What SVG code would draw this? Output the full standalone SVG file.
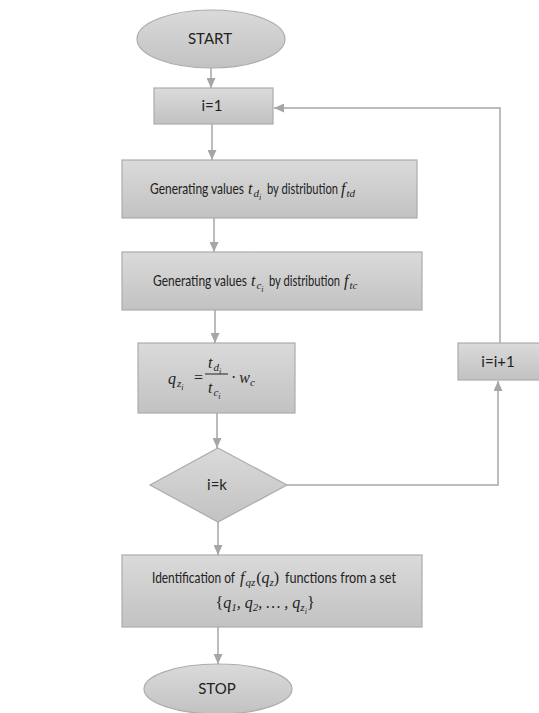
<svg xmlns="http://www.w3.org/2000/svg" width="539" height="713" viewBox="0 0 539 713">
<defs>
<linearGradient id="g" x1="0" y1="0" x2="0" y2="1">
<stop offset="0" stop-color="#dadada"/>
<stop offset="1" stop-color="#c2c2c2"/>
</linearGradient>
<marker id="ah" viewBox="0 0 10 10" refX="10" refY="5" markerWidth="10" markerHeight="9" markerUnits="userSpaceOnUse" orient="auto" preserveAspectRatio="none">
<path d="M0,0 L10,5 L0,10 z" fill="#a6a6a6"/>
</marker>
</defs>
<style>
.shape{fill:url(#g);stroke:#acacac;stroke-width:1.2}
.t{font-family:Lato,"Open Sans","Liberation Sans",sans-serif;font-size:15px;fill:#222222}
.mid{text-anchor:middle}
.m{font-family:"Liberation Serif","DejaVu Serif",serif;font-style:italic;font-size:16px;fill:#222222}
.up{font-style:normal}
.s{font-size:11px}
.ss{font-size:8px}
.c{fill:none;stroke:#a6a6a6;stroke-width:1.5}
</style>
<rect width="539" height="713" fill="#ffffff"/>
<g id="connectors">
<line class="c" x1="211" y1="68" x2="211" y2="88" marker-end="url(#ah)"/>
<line class="c" x1="212" y1="124" x2="212" y2="160" marker-end="url(#ah)"/>
<line class="c" x1="214" y1="218" x2="214" y2="252" marker-end="url(#ah)"/>
<line class="c" x1="215" y1="310" x2="215" y2="343" marker-end="url(#ah)"/>
<line class="c" x1="217" y1="413" x2="217" y2="448" marker-end="url(#ah)"/>
<line class="c" x1="218" y1="522" x2="218" y2="555" marker-end="url(#ah)"/>
<line class="c" x1="218" y1="627" x2="218" y2="664" marker-end="url(#ah)"/>
<polyline class="c" points="287,485 498,485 498,381" marker-end="url(#ah)"/>
<polyline class="c" points="500,343 500,108 274,108" marker-end="url(#ah)"/>
</g>
<g id="start">
<ellipse class="shape" cx="211" cy="39" rx="74" ry="29"/>
<text class="t mid" x="210" y="44">START</text>
</g>
<g id="init">
<rect class="shape" x="154" y="88" width="119" height="36"/>
<text class="t mid" x="212" y="111">i=1</text>
</g>
<g id="gen-td">
<rect class="shape" x="122" y="160" width="295" height="58"/>
<text class="t" y="194"><tspan x="150" textLength="94" lengthAdjust="spacingAndGlyphs">Generating values</tspan><tspan class="m" x="248">t</tspan><tspan class="m s" dx="1" dy="3">d</tspan><tspan class="m ss" dy="3">i</tspan><tspan x="267" y="194" textLength="71" lengthAdjust="spacingAndGlyphs">by distribution</tspan><tspan class="m" x="341">f</tspan><tspan class="m s" dx="1" dy="3">td</tspan></text>
</g>
<g id="gen-tc">
<rect class="shape" x="122" y="252" width="300" height="58"/>
<text class="t" y="286"><tspan x="153" textLength="94" lengthAdjust="spacingAndGlyphs">Generating values</tspan><tspan class="m" x="251">t</tspan><tspan class="m s" dx="1" dy="3">c</tspan><tspan class="m ss" dy="3">i</tspan><tspan x="269" y="286" textLength="71" lengthAdjust="spacingAndGlyphs">by distribution</tspan><tspan class="m" x="344">f</tspan><tspan class="m s" dx="1" dy="3">tc</tspan></text>
</g>
<g id="formula">
<rect class="shape" x="138" y="343" width="157" height="70"/>
<line x1="205" y1="374" x2="228" y2="374" stroke="#222222" stroke-width="1"/>
<text class="m"><tspan x="168" y="384">q</tspan><tspan class="s" dx="1" dy="3">z</tspan><tspan class="ss" dy="3">i</tspan><tspan class="up" x="194" y="383">=</tspan><tspan x="208" y="368">t</tspan><tspan class="s" dx="1" dy="3">d</tspan><tspan class="ss" dy="3">i</tspan><tspan x="208" y="393">t</tspan><tspan class="s" dx="1" dy="3">c</tspan><tspan class="ss" dy="3">i</tspan><tspan class="up" x="231" y="383">·</tspan><tspan dx="3">w</tspan><tspan class="s" dy="3">c</tspan></text>
</g>
<g id="decision">
<polygon class="shape" points="218,448 287,485 218,522 150,485"/>
<text class="t mid" x="217" y="490">i=k</text>
</g>
<g id="increment">
<rect class="shape" x="458" y="343" width="82" height="37"/>
<text class="t mid" x="498" y="367">i=i+1</text>
</g>
<g id="identify">
<rect class="shape" x="122" y="555" width="300" height="72"/>
<text class="t" y="583"><tspan x="152" textLength="83" lengthAdjust="spacingAndGlyphs">Identification of</tspan><tspan class="m" x="240">f</tspan><tspan class="m s" dx="1" dy="3">qz</tspan><tspan class="m up" dy="-3" dx="1">(</tspan><tspan class="m">q</tspan><tspan class="m s" dy="3">z</tspan><tspan class="m up" dy="-3">)</tspan><tspan x="285" y="583" textLength="111" lengthAdjust="spacingAndGlyphs">functions from a set</tspan></text>
<text class="m mid" x="265" y="608"><tspan class="up">{</tspan>q<tspan class="s" dy="3">1</tspan><tspan dy="-3">, q</tspan><tspan class="s" dy="3">2</tspan><tspan dy="-3">, … , q</tspan><tspan class="s" dy="3">z</tspan><tspan class="ss" dy="3">i</tspan><tspan class="up" dy="-6">}</tspan></text>
</g>
<g id="stop">
<ellipse class="shape" cx="218" cy="689" rx="74" ry="25"/>
<text class="t mid" x="217" y="694">STOP</text>
</g>
</svg>
